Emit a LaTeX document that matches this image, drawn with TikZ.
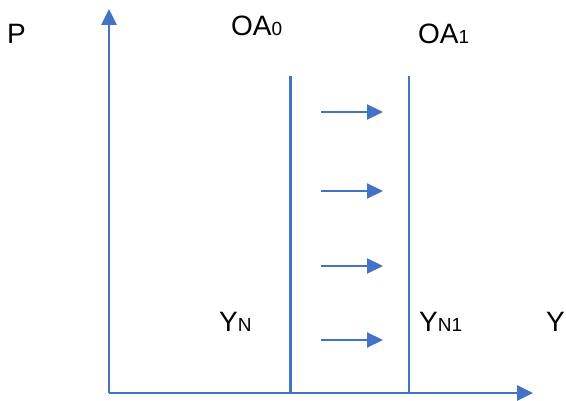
\documentclass[tikz,border=0pt]{standalone}
\usepackage{fontspec}
\setmainfont{Liberation Sans}
\usetikzlibrary{arrows.meta}
\definecolor{ax}{HTML}{4472C4}
\tikzset{
  axisline/.style={draw=ax,line width=2.7pt,-{Triangle[length=16pt,width=15pt]}},
  shiftarrow/.style={draw=ax,line width=2.1pt,-{Triangle[length=16pt,width=15pt]}},
  curve/.style={draw=ax,line width=2.3pt},
  lbl/.style={anchor=base west,inner sep=0pt,font=\fontsize{28}{32}\selectfont},
}
\newcommand{\sbs}[1]{{\fontsize{19}{22}\selectfont #1}}
\begin{document}
\begin{tikzpicture}[x=1pt,y=-1pt]
\useasboundingbox (0,0) rectangle (566,401);
\coordinate (o) at (109,393);
\coordinate (ytip) at (109,9);
\coordinate (xtip) at (533,393);
\draw[axisline] (o) -- (ytip);
\draw[axisline] (o) -- (xtip);
\coordinate (a0t) at (290.5,76);
\coordinate (a0b) at (290.5,393);
\coordinate (a1t) at (409,76);
\coordinate (a1b) at (409,393);
\draw[curve] (a0t) -- (a0b);
\draw[curve] (a1t) -- (a1b);
\foreach \i/\yy in {1/112,2/191,3/266,4/340}{
  \coordinate (s\i) at (321,\yy);
  \coordinate (e\i) at (383,\yy);
  \draw[shiftarrow] (s\i) -- (e\i);
}
\node[lbl] (P) at (7,44) {P};
\node[lbl] (OA0) at (231,36) {OA\sbs{0}};
\node[lbl] (OA1) at (418,44) {OA\sbs{1}};
\node[lbl] (YN) at (219,332) {Y\sbs{N}};
\node[lbl] (YN1) at (419,332) {Y\sbs{N1}};
\node[lbl] (Y) at (546,332) {Y};
\end{tikzpicture}
\end{document}
